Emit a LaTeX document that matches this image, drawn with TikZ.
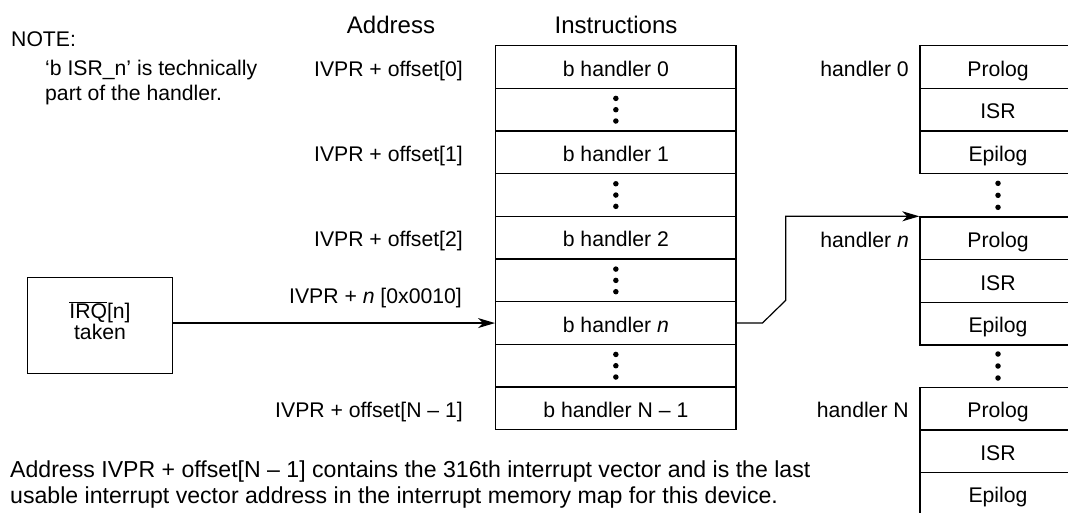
\documentclass[tikz,border=0pt]{standalone}
\usepackage{fontspec}
\setmainfont{Liberation Sans}
\usetikzlibrary{arrows.meta,calc}
\begin{document}
\begin{tikzpicture}[x=1pt,y=-1pt,
  txt/.style={font=\fontsize{21.2}{25}\selectfont, inner sep=0pt},
  hdr/.style={font=\fontsize{24}{28}\selectfont, inner sep=0pt},
  cell/.style={draw, line width=1.4pt, minimum width=240.3pt, minimum height=42.67pt, inner sep=0pt, text height=18pt, text depth=0pt, font=\fontsize{21.2}{25}\selectfont},
  hcell/.style={draw, line width=1.4pt, minimum width=156pt, minimum height=42.67pt, inner sep=0pt, text height=18pt, text depth=0pt, font=\fontsize{21.2}{25}\selectfont},
  dotc/.style={fill, circle, inner sep=0pt, minimum size=5.5pt},
  arr/.style={line width=1.2pt, -{Stealth[length=17pt,width=10pt,inset=5pt]}}
]
\useasboundingbox (0,0) rectangle (1068,512);
\clip (0,0) rectangle (1068,512);

% headers
\node[hdr, anchor=base] (haddr) at (391,33) {Address};
\node[hdr, anchor=base] (hinstr) at (616,33) {Instructions};

% note
\node[txt, anchor=base west] (note) at (11,46) {NOTE:};
\node[txt, anchor=base west, align=left, font=\fontsize{21.2}{25}\selectfont] (notetxt) at (45,100.5) {‘b ISR\_n’ is technically\\part of the handler.};

% instruction column
\foreach \i/\t in {0/{b handler 0},1/{},2/{b handler 1},3/{},4/{b handler 2},5/{},6/{b handler \textit{n}},7/{},8/{b handler N – 1}}{
  \node[cell] (c\i) at (615.85,{45.7+42.67*(\i+0.5)}) {\t};
}
\foreach \i in {1,3,5,7}{
  \node[dotc] (d\i a) at ($(c\i)+(0,-11.3)$) {};
  \node[dotc] (d\i b) at (c\i) {};
  \node[dotc] (d\i c) at ($(c\i)+(0,11.3)$) {};
}

% address labels
\node[txt, anchor=base east] (a0) at (463,{45.7+42.67*0.5+9}) {IVPR + offset[0]};
\node[txt, anchor=base east] (a1) at (463,{45.7+42.67*2.5+9}) {IVPR + offset[1]};
\node[txt, anchor=base east] (a2) at (463,{45.7+42.67*4.5+9}) {IVPR + offset[2]};
\node[txt, anchor=base east] (a3) at (463,{45.7+42.67*8.5+9}) {IVPR + offset[N – 1]};

% IRQ box
\node[draw, line width=1.4pt, minimum width=144.6pt, minimum height=96pt] (irq) at (100,325.3) {};
\node[txt, align=center, font=\fontsize{21.2}{21}\selectfont] (irqtxt) at (100,321) {$\overline{\mbox{IRQ}}$[n]\\taken};
\draw[arr] (irq.east |- c6.west) -- (c6.west);
\path (c6.west) ++(-33,-20) node[txt, anchor=base east] (irqlbl) {IVPR + \textit{n} [0x0010]};

% handler columns
\foreach \g/\top in {1/45.7,2/217,3/387.3}{
  \node[hcell] (p\g) at (998,{\top+42.67*0.5}) {Prolog};
  \node[hcell] (s\g) at (998,{\top+42.67*1.5}) {ISR};
  \node[hcell] (e\g) at (998,{\top+42.67*2.5}) {Epilog};
}
\node[txt, anchor=base east] (hl0) at (909,{45.7+42.67*0.5+9}) {handler 0};
\node[txt, anchor=base east] (hln) at (909,{217+42.67*0.5+9}) {handler \textit{n}};
\node[txt, anchor=base east] (hlN) at (909,{387.3+42.67*0.5+9}) {handler N};

\foreach \y/\k in {195.3/a,366/b}{
  \node[dotc] (hd\k 1) at (998,\y-12) {};
  \node[dotc] (hd\k 2) at (998,\y) {};
  \node[dotc] (hd\k 3) at (998,\y+12) {};
}

% connector
\draw[arr] (c6.east) -- ++(25.7,0) -- ++(23.3,-22.7) |- (p2.north west);

% bottom text
\node[txt, anchor=base west, align=left, font=\fontsize{23.1}{26}\selectfont] (bottom) at (10,503) {Address IVPR + offset[N – 1] contains the 316th interrupt vector and is the last\\usable interrupt vector address in the interrupt memory map for this device.};
\end{tikzpicture}
\end{document}
